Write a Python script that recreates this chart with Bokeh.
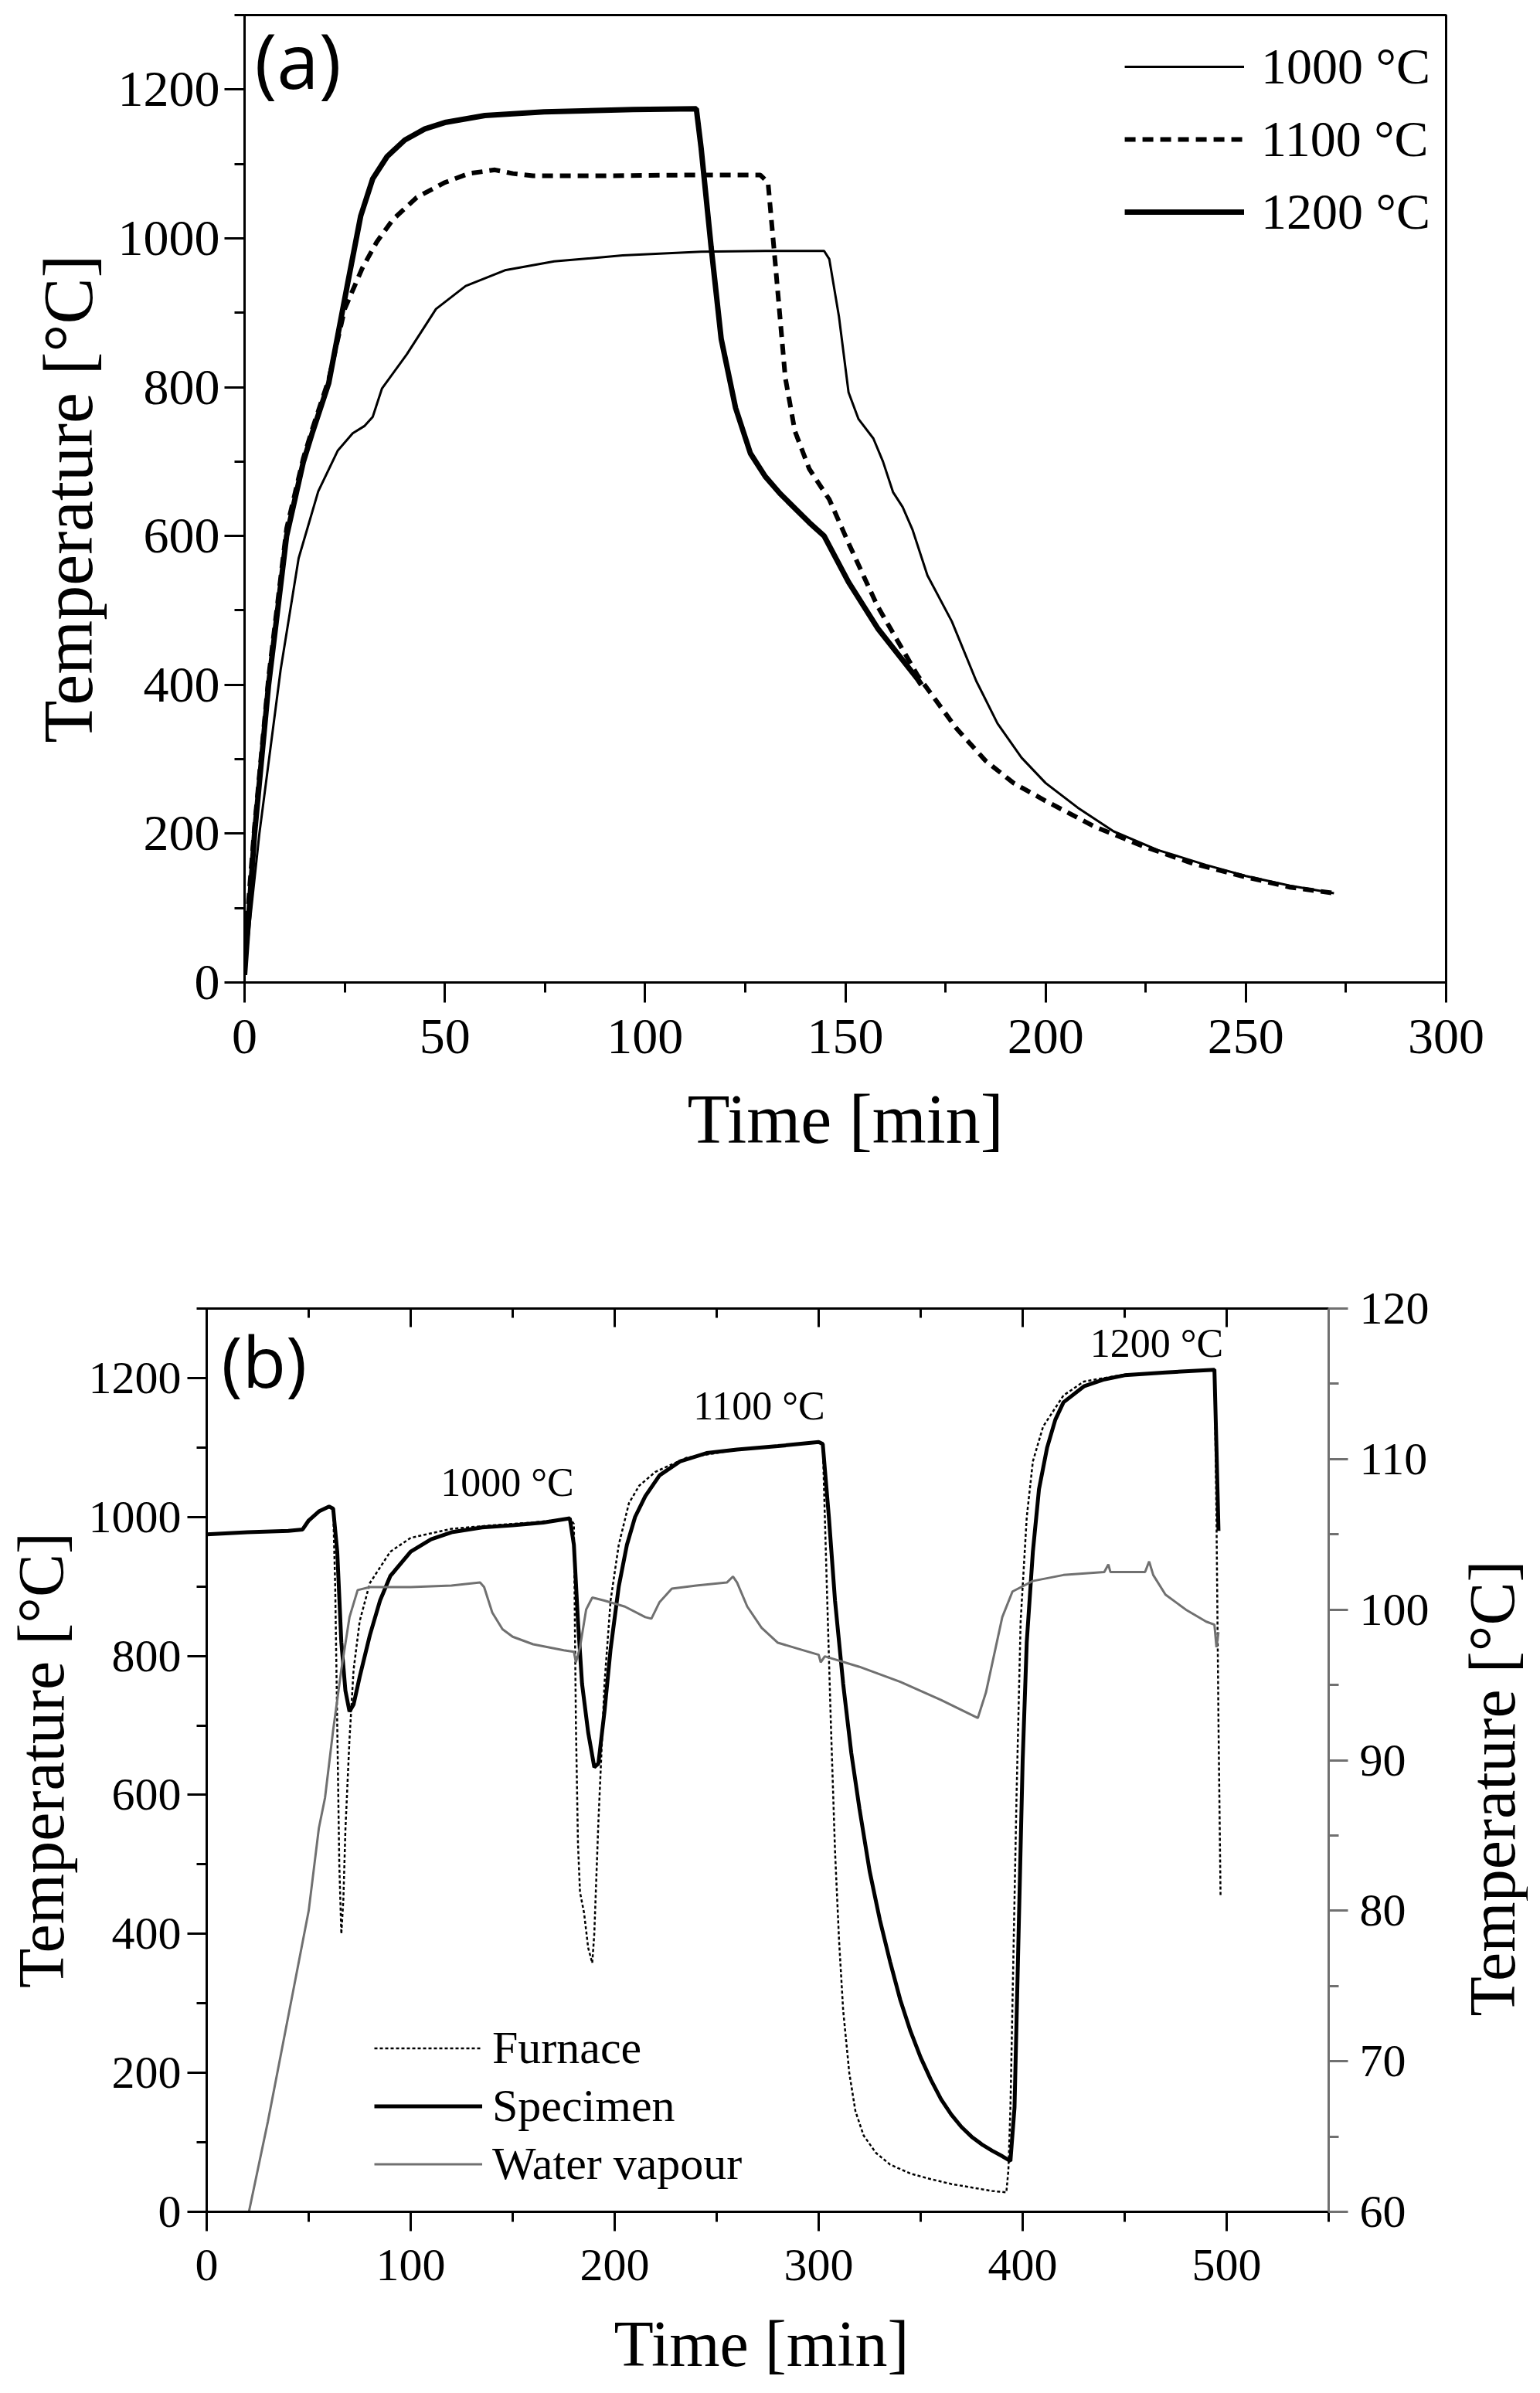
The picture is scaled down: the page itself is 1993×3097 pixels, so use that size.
from math import pi
from bokeh.plotting import figure
from bokeh.models import (Range1d, LinearAxis, SingleIntervalTicker, Legend,
                          LegendItem, Label)
from bokeh.embed import file_html
from bokeh.resources import INLINE

SERIF = "Liberation Serif"
SANS = "Open Sans"

# ---------------- panel (a) data ----------------
t_1000 = [0, 1.5, 3.7, 9, 13.5, 18.4, 23.3, 27, 30, 32, 34.3, 40.5, 47.8, 55.2, 65,
          77.3, 94.4, 114, 130, 144.7, 146, 148.4, 150.8, 153.3, 157, 159.4, 161.9,
          164.3, 166.8, 170.5, 176.6, 182.7, 188, 194, 200, 208, 217, 228, 240,
          250, 261, 272]
T_1000 = [10, 90, 200, 420, 570, 660, 715, 738, 748, 760, 798, 844, 905, 936, 957,
          969, 977, 982, 983, 983, 972, 895, 793, 757, 731, 700, 659, 639, 608, 547,
          485, 405, 348, 302, 268, 235, 203, 178, 158, 143, 130, 120]

t_1100 = [0, 1, 2.5, 6, 10.5, 14.7, 17, 21, 25, 29.4, 33, 37, 43, 50, 56, 62.5, 67, 72,
          90, 110, 128.8, 130.7, 132.5, 135, 137.4, 141, 146, 151, 158, 168, 177.8,
          185, 192, 200, 212, 224.4, 236.7, 249, 261, 272]
T_1100 = [10, 110, 210, 410, 610, 705, 745, 810, 905, 960, 995, 1025, 1055, 1075, 1087,
          1092, 1087, 1084, 1084, 1085, 1085, 1075, 967, 813, 741, 690, 649, 588, 506,
          413, 341, 298, 268, 244, 210, 183, 160, 143, 128, 120]

t_1200 = [0, 2.5, 6, 10.5, 14.7, 17, 21, 25.8, 29, 32, 35.6, 40, 45, 50.3, 60, 74.8, 97,
          112.8, 114, 116.5, 119, 122.6, 126.3, 130, 133.7, 141, 144.7, 150.8, 158.2,
          168, 169]
T_1200 = [10, 200, 400, 600, 700, 740, 805, 941, 1030, 1080, 1110, 1132, 1147, 1156,
          1165, 1170, 1173, 1174, 1121, 988, 865, 772, 711, 680, 657, 618, 600, 538,
          475, 408, 400]

series_a = ["1000 °C", "1100 °C", "1200 °C"]

# ---------------- panel (b) data ----------------
t_furnace = [0, 20, 40, 47, 50, 55, 60, 62, 63, 64, 65, 66, 67, 68, 70, 72, 75, 80, 90,
             100, 120, 140, 160, 178, 180, 181, 182, 183, 185, 187, 189, 190, 192,
             195, 198, 202, 207, 212, 220, 235, 260, 280, 300, 302, 304, 306, 308,
             310, 312, 315, 318, 322, 328, 335, 345, 355, 365, 375, 385, 392, 393,
             394, 395, 397, 399, 402, 405, 410, 420, 430, 450, 470, 494, 495, 496, 497]
T_furnace = [975, 978, 980, 982, 995, 1008, 1015, 1012, 900, 700, 500, 400, 450, 550,
             680, 780, 850, 905, 950, 970, 983, 988, 992, 998, 990, 700, 530, 460,
             430, 380, 358, 400, 560, 760, 880, 960, 1020, 1045, 1065, 1085, 1097,
             1102, 1108, 1105, 900, 700, 520, 390, 290, 200, 145, 110, 85, 68, 55,
             47, 40, 35, 30, 28, 60, 150, 300, 600, 850, 1000, 1080, 1130, 1175, 1195,
             1205, 1208, 1212, 1000, 700, 455]

t_specimen = [0, 20, 40, 47, 50, 55, 60, 62, 64, 66, 68, 70, 72, 75, 80, 85, 90, 100,
              110, 120, 135, 150, 165, 178, 180, 182, 184, 187, 190, 192, 195, 198,
              202, 206, 210, 215, 222, 232, 245, 260, 280, 300, 302, 305, 308, 312,
              316, 320, 325, 330, 335, 340, 345, 350, 355, 360, 365, 370, 375, 380,
              385, 390, 394, 396, 398, 400, 402, 405, 408, 412, 416, 420, 430, 440,
              450, 470, 494, 495, 496]
T_specimen = [975, 978, 980, 982, 995, 1008, 1015, 1012, 950, 820, 750, 720, 730, 770,
              830, 880, 915, 950, 968, 978, 985, 988, 992, 998, 960, 850, 760, 690,
              640, 645, 720, 810, 900, 960, 1000, 1030, 1060, 1080, 1092, 1097, 1102,
              1108, 1105, 1000, 880, 760, 660, 580, 490, 420, 360, 305, 260, 222, 190,
              162, 140, 122, 108, 97, 88, 80, 73, 150, 400, 650, 820, 950, 1040, 1100,
              1140, 1165, 1188, 1198, 1204, 1208, 1212, 1100, 980]

t_vapour = [20.7, 30, 40, 50, 55, 58, 62, 66, 70, 74, 80, 100, 120, 134, 136, 140, 145,
            150, 160, 175, 180, 181, 183, 186, 189, 195, 205, 215, 218, 222, 228, 240,
            255, 258, 260, 265, 272, 280, 290, 300, 301, 303, 320, 340, 360, 378, 382,
            386, 390, 395, 405, 420, 440, 442, 443, 460, 462, 464, 470, 480, 490, 494,
            495, 496]
W_vapour = [60, 66, 73, 80, 85.5, 87.5, 92, 96, 99.5, 101.3, 101.5, 101.5, 101.6, 101.8,
            101.5, 99.8, 98.7, 98.2, 97.7, 97.3, 97.2, 96.5, 97.5, 100, 100.8, 100.6,
            100.2, 99.5, 99.4, 100.5, 101.4, 101.6, 101.8, 102.2, 101.8, 100.2, 98.8,
            97.8, 97.4, 97.0, 96.5, 96.9, 96.2, 95.2, 94.0, 92.8, 94.5, 97, 99.5, 101.2,
            101.9, 102.3, 102.5, 103, 102.5, 102.5, 103.2, 102.3, 101, 100, 99.2, 99.0,
            97.5, 98.5]

series_b = ["Furnace", "Specimen", "Water vapour"]
annotations_b = ["1000 °C", "1100 °C", "1200 °C"]

GRAY = "#707070"


def style_fig(p):
    p.xgrid.visible = False
    p.ygrid.visible = False
    p.outline_line_color = "black"
    p.outline_line_width = 3
    p.outline_line_alpha = 1
    p.background_fill_color = "white"
    p.border_fill_color = "white"


def style_axis(ax, font_size, label_size, tick_out, minor_out, color="black"):
    ax.axis_line_color = color
    ax.axis_line_width = 3
    ax.major_tick_line_color = color
    ax.major_tick_line_width = 3
    ax.minor_tick_line_color = color
    ax.minor_tick_line_width = 3
    ax.major_tick_in = 0
    ax.major_tick_out = tick_out
    ax.minor_tick_in = 0
    ax.minor_tick_out = minor_out
    ax.major_label_text_font = SERIF
    ax.major_label_text_font_size = font_size
    ax.major_label_text_color = "black"
    ax.axis_label_text_font = SERIF
    ax.axis_label_text_font_size = label_size
    ax.axis_label_text_font_style = "normal"
    ax.axis_label_text_color = "black"


# ---------------- panel (a) ----------------
pa = figure(width=1977, height=1552, x_range=Range1d(0, 300), y_range=Range1d(0, 1300),
            output_backend="svg", toolbar_location=None,
            min_border_left=316, min_border_right=106, min_border_top=19,
            min_border_bottom=281)
style_fig(pa)
pa.xaxis.ticker = SingleIntervalTicker(interval=50, num_minor_ticks=2)
pa.yaxis.ticker = SingleIntervalTicker(interval=200, num_minor_ticks=2)
for ax in pa.xaxis + pa.yaxis:
    style_axis(ax, "66px", "90px", 26, 13)
pa.xaxis.axis_label = "Time [min]"
pa.yaxis.axis_label = "Temperature [°C]"
pa.xaxis.major_label_standoff = 22
pa.yaxis.major_label_standoff = 6
pa.xaxis.axis_label_standoff = 33
pa.yaxis.axis_label_standoff = 12

r1 = pa.line(t_1000, T_1000, line_color="black", line_width=3)
r2 = pa.line(t_1100, T_1100, line_color="black", line_width=6, line_dash="14 9")
r3 = pa.line(t_1200, T_1200, line_color="black", line_width=7)

leg_a = Legend(items=[LegendItem(label=series_a[0], renderers=[r1]),
                      LegendItem(label=series_a[1], renderers=[r2]),
                      LegendItem(label=series_a[2], renderers=[r3])],
               location="top_right")
leg_a.label_text_font = SERIF
leg_a.label_text_font_size = "66px"
leg_a.label_text_color = "black"
leg_a.glyph_width = 155
leg_a.glyph_height = 94
leg_a.label_height = 94
leg_a.spacing = 0
leg_a.label_standoff = 22
leg_a.padding = 10
leg_a.margin = 10
leg_a.border_line_alpha = 0
leg_a.background_fill_alpha = 0
pa.add_layout(leg_a)

pa.add_layout(Label(x=2.5, y=1240, text="(a)", text_font=SANS, text_font_size="98px",
                    text_baseline="middle", text_align="left", text_color="black"))

# ---------------- panel (b) ----------------
pb = figure(width=1977, height=1529, x_range=Range1d(0, 550), y_range=Range1d(0, 1300),
            output_backend="svg", toolbar_location=None,
            min_border_left=267, min_border_right=258, min_border_top=141,
            min_border_bottom=219)
style_fig(pb)
pb.extra_y_ranges = {"right": Range1d(60, 120)}
pb.xaxis.ticker = SingleIntervalTicker(interval=100, num_minor_ticks=2)
pb.yaxis.ticker = SingleIntervalTicker(interval=200, num_minor_ticks=2)
for ax in pb.xaxis + pb.yaxis:
    style_axis(ax, "60px", "84px", 25, 13)
pb.yaxis.axis_label = "Temperature [°C]"
pb.xaxis.major_label_standoff = 24
pb.yaxis.major_label_standoff = 8
pb.yaxis.axis_label_standoff = 12

right_ax = LinearAxis(y_range_name="right",
                      ticker=SingleIntervalTicker(interval=10, num_minor_ticks=2))
style_axis(right_ax, "60px", "84px", 25, 13, color=GRAY)
right_ax.major_label_standoff = 15
pb.add_layout(right_ax, "right")

top_ax = LinearAxis(ticker=SingleIntervalTicker(interval=100, num_minor_ticks=2))
style_axis(top_ax, "60px", "84px", 0, 0)
top_ax.major_tick_in = 24
top_ax.minor_tick_in = 12
top_ax.major_label_overrides = {v: "" for v in range(0, 600, 100)}
top_ax.major_label_standoff = 0
pb.add_layout(top_ax, "above")

rf = pb.line(t_furnace, T_furnace, line_color="black", line_width=2.5, line_dash="4 3")
rs = pb.line(t_specimen, T_specimen, line_color="black", line_width=5)
rw = pb.line(t_vapour, W_vapour, line_color=GRAY, line_width=3, y_range_name="right")

leg_b = Legend(items=[LegendItem(label=series_b[0], renderers=[rf]),
                      LegendItem(label=series_b[1], renderers=[rs]),
                      LegendItem(label=series_b[2], renderers=[rw])],
               location=(212, 19.5))
leg_b.label_text_font = SERIF
leg_b.label_text_font_size = "60px"
leg_b.label_text_color = "black"
leg_b.glyph_width = 140
leg_b.glyph_height = 75
leg_b.label_height = 75
leg_b.spacing = 0
leg_b.label_standoff = 13
leg_b.padding = 5
leg_b.margin = 0
leg_b.border_line_alpha = 0
leg_b.background_fill_alpha = 0
pb.add_layout(leg_b)

pb.add_layout(Label(x=7.2, y=1226, text="(b)", text_font=SANS, text_font_size="92px",
                    text_baseline="middle", text_align="left", text_color="black"))

for txt, xx, yy in zip(annotations_b, [147.3, 270.8, 465.7], [1050, 1160, 1250]):
    pb.add_layout(Label(x=xx, y=yy, text=txt, text_font=SERIF, text_font_size="52px",
                        text_align="center", text_baseline="middle",
                        text_color="black"))

# right-hand axis title, reading bottom-to-top like the left one
pb.add_layout(Label(x=1931, y=762, x_units="canvas", y_units="canvas",
                    text="Temperature [°C]", text_font=SERIF, text_font_size="84px",
                    angle=pi / 2, text_align="center", text_baseline="middle",
                    text_color="black"), "right")

# bottom axis title of panel (b)
pb.add_layout(Label(x=985, y=1481, x_units="canvas", y_units="canvas",
                    text="Time [min]", text_font=SERIF, text_font_size="84px",
                    text_align="center", text_baseline="middle",
                    text_color="black"), "below")

open("out.html", "w").write(file_html([pa, pb], INLINE))
